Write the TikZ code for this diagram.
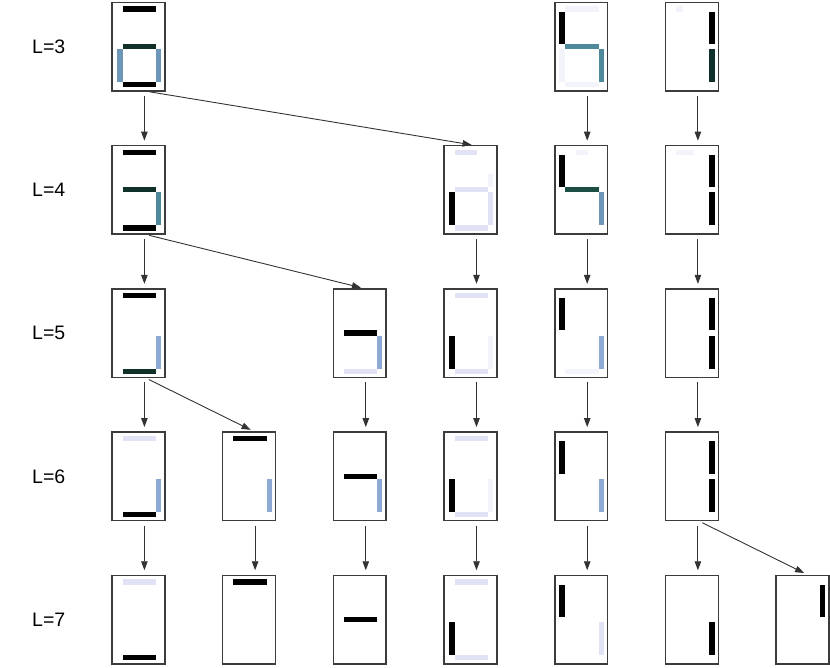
\documentclass[tikz,border=0pt]{standalone}
\usepackage{fontspec}
\setmainfont{Liberation Sans}
\usetikzlibrary{arrows.meta}
\definecolor{bordergray}{RGB}{60,60,60}
\definecolor{dteal}{RGB}{18,48,42}
\definecolor{tealone}{RGB}{78,138,155}
\definecolor{steel}{RGB}{110,150,185}
\definecolor{lblue}{RGB}{140,170,212}
\definecolor{dgreen}{RGB}{28,78,68}
\definecolor{lav}{RGB}{226,226,246}
\definecolor{lavp}{RGB}{243,243,252}
\newcommand\sgA[1]{\fill[#1] (10.5,4) rectangle (43.8,9.3);}
\newcommand\sgG[1]{\fill[#1] (10.5,41.5) rectangle (43.8,46.8);}
\newcommand\sgD[1]{\fill[#1] (10.5,79.8) rectangle (43.8,85);}
\newcommand\sgF[1]{\fill[#1] (4.5,9.3) rectangle (10.5,41.5);}
\newcommand\sgE[1]{\fill[#1] (4.5,46.8) rectangle (10.5,79.8);}
\newcommand\sgB[1]{\fill[#1] (43.8,9.3) rectangle (49,41.5);}
\newcommand\sgC[1]{\fill[#1] (43.8,46.8) rectangle (49,79.8);}
\newcommand\inbox[2]{\begin{scope}[shift={(#1.north west)}]#2\end{scope}}
\begin{document}
\begin{tikzpicture}[x=1pt,y=-1pt,
  digit/.style={draw=bordergray,line width=1.5pt,minimum width=52.8pt,minimum height=88.5pt,inner sep=0pt,outer sep=0pt,fill=white},
  lbl/.style={anchor=west,font=\fontsize{19.5}{22}\selectfont,inner sep=0pt},
  arr/.style={draw=black!80,line width=0.9pt,-{Triangle[length=9pt,width=6.5pt]},shorten <=5pt,shorten >=5pt}]
\useasboundingbox (0,0) rectangle (830,667);
% labels
\node[lbl] (l3) at (32,46.7) {L=3};
\node[lbl] (l4) at (32,189.9) {L=4};
\node[lbl] (l5) at (32,333.1) {L=5};
\node[lbl] (l6) at (32,476.3) {L=6};
\node[lbl] (l7) at (32,619.5) {L=7};
% boxes
\node[digit] (b31) at (138.4,46.7) {};
\node[digit] (b35) at (581.2,46.7) {};
\node[digit] (b36) at (691.9,46.7) {};
\node[digit] (b41) at (138.4,189.9) {};
\node[digit] (b44) at (470.5,189.9) {};
\node[digit] (b45) at (581.2,189.9) {};
\node[digit] (b46) at (691.9,189.9) {};
\node[digit] (b51) at (138.4,333.1) {};
\node[digit] (b53) at (359.8,333.1) {};
\node[digit] (b54) at (470.5,333.1) {};
\node[digit] (b55) at (581.2,333.1) {};
\node[digit] (b56) at (691.9,333.1) {};
\node[digit] (b61) at (138.4,476.3) {};
\node[digit] (b62) at (249.1,476.3) {};
\node[digit] (b63) at (359.8,476.3) {};
\node[digit] (b64) at (470.5,476.3) {};
\node[digit] (b65) at (581.2,476.3) {};
\node[digit] (b66) at (691.9,476.3) {};
\node[digit] (b71) at (138.4,619.5) {};
\node[digit] (b72) at (249.1,619.5) {};
\node[digit] (b73) at (359.8,619.5) {};
\node[digit] (b74) at (470.5,619.5) {};
\node[digit] (b75) at (581.2,619.5) {};
\node[digit] (b76) at (691.9,619.5) {};
\node[digit] (b77) at (802.6,619.5) {};
% segments row 3
\inbox{b31}{\sgA{black}\sgG{dteal}\sgE{steel}\sgC{steel}\sgD{black}}
\inbox{b35}{\sgA{lavp}\sgE{lavp}\sgD{lavp}\sgF{black}\sgG{tealone}\sgC{tealone}}
\inbox{b36}{\fill[lavp] (10.5,4) rectangle (17,9.3);\sgB{black}\sgC{dteal}}
% row 4
\inbox{b41}{\sgA{black}\sgG{dteal}\sgC{tealone}\sgD{black}}
\inbox{b44}{\fill[lav] (10.5,4) rectangle (33,9.3);\sgG{lav}\sgC{lav}\sgD{lav}\fill[lavp] (43.8,28) rectangle (49,41.5);\sgE{black}}
\inbox{b45}{\fill[lavp] (21,4) rectangle (33,9.3);\sgF{black}\sgG{dgreen}\sgC{steel}}
\inbox{b46}{\fill[lavp] (10.5,4) rectangle (28,9.3);\sgB{black}\sgC{black}}
% row 5
\inbox{b51}{\sgA{black}\sgC{lblue}\sgD{dteal}}
\inbox{b53}{\sgD{lav}\sgG{black}\sgC{lblue}}
\inbox{b54}{\sgA{lav}\sgC{lavp}\sgD{lav}\sgE{black}}
\inbox{b55}{\sgD{lavp}\sgF{black}\sgC{lblue}}
\inbox{b56}{\sgB{black}\sgC{black}}
% row 6
\inbox{b61}{\sgA{lav}\sgC{lblue}\sgD{black}}
\inbox{b62}{\sgA{black}\sgC{lblue}}
\inbox{b63}{\sgG{black}\sgC{lblue}}
\inbox{b64}{\sgA{lav}\sgC{lavp}\sgD{lav}\sgE{black}}
\inbox{b65}{\sgF{black}\sgC{lblue}}
\inbox{b66}{\sgB{black}\sgC{black}}
% row 7
\inbox{b71}{\sgA{lav}\sgD{black}}
\inbox{b72}{\sgA{black}}
\inbox{b73}{\sgG{black}}
\inbox{b74}{\sgA{lav}\sgD{lav}\sgE{black}}
\inbox{b75}{\sgC{lav}\sgF{black}}
\inbox{b76}{\sgC{black}}
\inbox{b77}{\sgB{black}}
% arrows
\foreach \s/\t in {b31/b41,b41/b51,b51/b61,b61/b71,b35/b45,b36/b46,b44/b54,b45/b55,b46/b56,b53/b63,b54/b64,b55/b65,b56/b66,b62/b72,b63/b73,b64/b74,b65/b75,b66/b76,b31/b44,b41/b53,b51/b62,b66/b77}
  \draw[arr] ([xshift=6pt]\s.south) -- ([xshift=6pt]\t.north);
\end{tikzpicture}
\end{document}
